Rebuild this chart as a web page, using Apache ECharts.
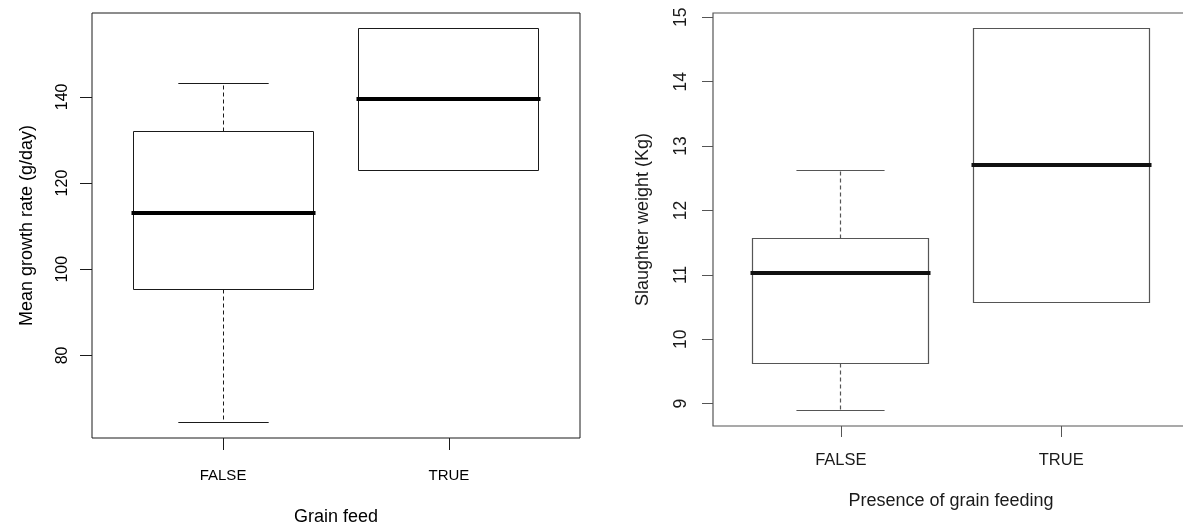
<!DOCTYPE html>
<html>
<head>
<meta charset="utf-8">
<script src="https://cdn.jsdelivr.net/npm/echarts@6/dist/echarts.min.js"></script>
<style>
  html, body { margin: 0; padding: 0; background: #ffffff; }
  #chart { width: 1183px; height: 526px; }
</style>
</head>
<body>
<div id="chart"></div>
<script>
// Grain feeding groups shown on both panels
const categories = ['FALSE', 'TRUE'];

// Five-number summaries: [lower whisker, Q1, median, Q3, upper whisker]
const growthFalse = [64.5, 95.3, 113.0, 132.0, 143.0];
const growthTrue = [123.0, 123.0, 139.6, 155.8, 155.8];
const weightFalse = [8.89, 9.63, 11.03, 11.57, 12.62];
const weightTrue = [10.57, 10.57, 12.71, 14.83, 14.83];

// Tick values along each y axis
const growthTicks = [80, 100, 120, 140];
const weightTicks = [9, 10, 11, 12, 13, 14, 15];

const FONT = '"Liberation Sans", Arial, sans-serif';
const BOX_WIDTH = 0.8;

// Axis range padded by 4% on each side, like a base-graphics boxplot
function paddedRange(groups) {
  const all = groups.flat();
  const lo = Math.min(...all), hi = Math.max(...all);
  const pad = (hi - lo) * 0.04;
  return [lo - pad, hi + pad];
}
const catRange = [1 - 0.5 - 0.04 * categories.length, categories.length + 0.5 + 0.04 * categories.length];

const crisp = v => Math.round(v - 0.5) + 0.5;

function boxRenderer(st) {
  return function (params, api) {
    const x = api.value(0);
    const lo = api.value(1), q1 = api.value(2), med = api.value(3), q3 = api.value(4), hi = api.value(5);
    const half = api.size([BOX_WIDTH, 0])[0] / 2;
    const cap = half / 2;
    const cx = crisp(api.coord([x, med])[0]);
    const y = v => crisp(api.coord([x, v])[1]);
    const line = { stroke: st.color, lineWidth: st.width };
    const dashed = { stroke: st.color, lineWidth: st.width, lineDash: st.dash };
    const left = crisp(cx - half), right = crisp(cx + half);
    const children = [];
    if (hi > q3) {
      children.push({ type: 'line', shape: { x1: cx, y1: y(q3), x2: cx, y2: y(hi) }, style: dashed });
      children.push({ type: 'line', shape: { x1: cx - cap, y1: y(hi), x2: cx + cap, y2: y(hi) }, style: line });
    }
    if (lo < q1) {
      children.push({ type: 'line', shape: { x1: cx, y1: y(q1), x2: cx, y2: y(lo) }, style: dashed });
      children.push({ type: 'line', shape: { x1: cx - cap, y1: y(lo), x2: cx + cap, y2: y(lo) }, style: line });
    }
    children.push({
      type: 'rect',
      shape: { x: left, y: y(q3), width: right - left, height: y(q1) - y(q3) },
      style: { fill: '#ffffff', stroke: st.color, lineWidth: st.width }
    });
    const my = Math.round(api.coord([x, med])[1]);
    children.push({
      type: 'line',
      shape: { x1: left, y1: my, x2: right, y2: my },
      style: { stroke: st.median, lineWidth: st.medianWidth, lineCap: 'square' }
    });
    return { type: 'group', children };
  };
}

function yAxisFor(gridIndex, name, ticks, range, s) {
  return {
    type: 'value', gridIndex, min: range[0], max: range[1],
    name, nameLocation: 'middle', nameRotate: 90, nameGap: s.nameGapY,
    nameTextStyle: { fontFamily: FONT, fontSize: s.nameSize, color: s.text },
    axisLine: { show: false },
    splitLine: { show: false },
    axisTick: { show: true, length: s.tick, customValues: ticks, lineStyle: { color: s.color, width: 1 } },
    axisLabel: { customValues: ticks, rotate: 90, margin: s.labelMarginY, fontFamily: FONT, fontSize: s.labelSizeY, color: s.text }
  };
}

function xAxisFor(gridIndex, name, s) {
  const pos = categories.map((c, i) => i + 1);
  return {
    type: 'value', gridIndex, min: catRange[0], max: catRange[1], position: 'bottom',
    name, nameLocation: 'middle', nameGap: s.nameGapX,
    nameTextStyle: { fontFamily: FONT, fontSize: s.nameSize, color: s.text },
    axisLine: { show: false },
    splitLine: { show: false },
    axisTick: { show: true, length: s.tick, customValues: pos, lineStyle: { color: s.color, width: 1 } },
    axisLabel: {
      customValues: pos, margin: s.labelMarginX, fontFamily: FONT, fontSize: s.labelSizeX, color: s.text,
      formatter: v => categories[Math.round(v) - 1]
    }
  };
}

const leftStyle = {
  color: '#1a1a1a', median: '#000000', width: 1, medianWidth: 4, dash: [4, 3], text: '#000000',
  tick: 12, labelSizeY: 16, labelSizeX: 15, nameSize: 18,
  labelMarginY: 21, labelMarginX: 30, nameGapY: 56, nameGapX: 70
};
const rightStyle = {
  color: '#555555', median: '#111111', width: 1.2, medianWidth: 4, dash: [4, 3], text: '#1a1a1a',
  tick: 11, labelSizeY: 17.5, labelSizeX: 16.5, nameSize: 18,
  labelMarginY: 23, labelMarginX: 26, nameGapY: 61, nameGapX: 66
};

const growthRange = paddedRange([growthFalse, growthTrue]);
const weightRange = paddedRange([weightFalse, weightTrue]);

const chart = echarts.init(document.getElementById('chart'), null, { renderer: 'canvas' });
chart.setOption({
  backgroundColor: '#ffffff',
  animation: false,
  grid: [
    { left: 92, top: 13, width: 488, height: 425, outerBoundsMode: 'none', containLabel: false,
      show: true, borderColor: leftStyle.color, borderWidth: 1, backgroundColor: 'transparent' },
    { left: 713, top: 13, width: 476, height: 413, outerBoundsMode: 'none', containLabel: false,
      show: true, borderColor: rightStyle.color, borderWidth: 1.2, backgroundColor: 'transparent' }
  ],
  xAxis: [
    xAxisFor(0, 'Grain feed', leftStyle),
    xAxisFor(1, 'Presence of grain feeding', rightStyle)
  ],
  yAxis: [
    yAxisFor(0, 'Mean growth rate (g/day)', growthTicks, growthRange, leftStyle),
    yAxisFor(1, 'Slaughter weight (Kg)', weightTicks, weightRange, rightStyle)
  ],
  series: [
    {
      type: 'custom', xAxisIndex: 0, yAxisIndex: 0,
      renderItem: boxRenderer(leftStyle),
      encode: { x: 0, y: [1, 2, 3, 4, 5] },
      data: [[1, ...growthFalse], [2, ...growthTrue]]
    },
    {
      type: 'custom', xAxisIndex: 1, yAxisIndex: 1,
      renderItem: boxRenderer(rightStyle),
      encode: { x: 0, y: [1, 2, 3, 4, 5] },
      data: [[1, ...weightFalse], [2, ...weightTrue]]
    }
  ]
});
</script>
</body>
</html>
